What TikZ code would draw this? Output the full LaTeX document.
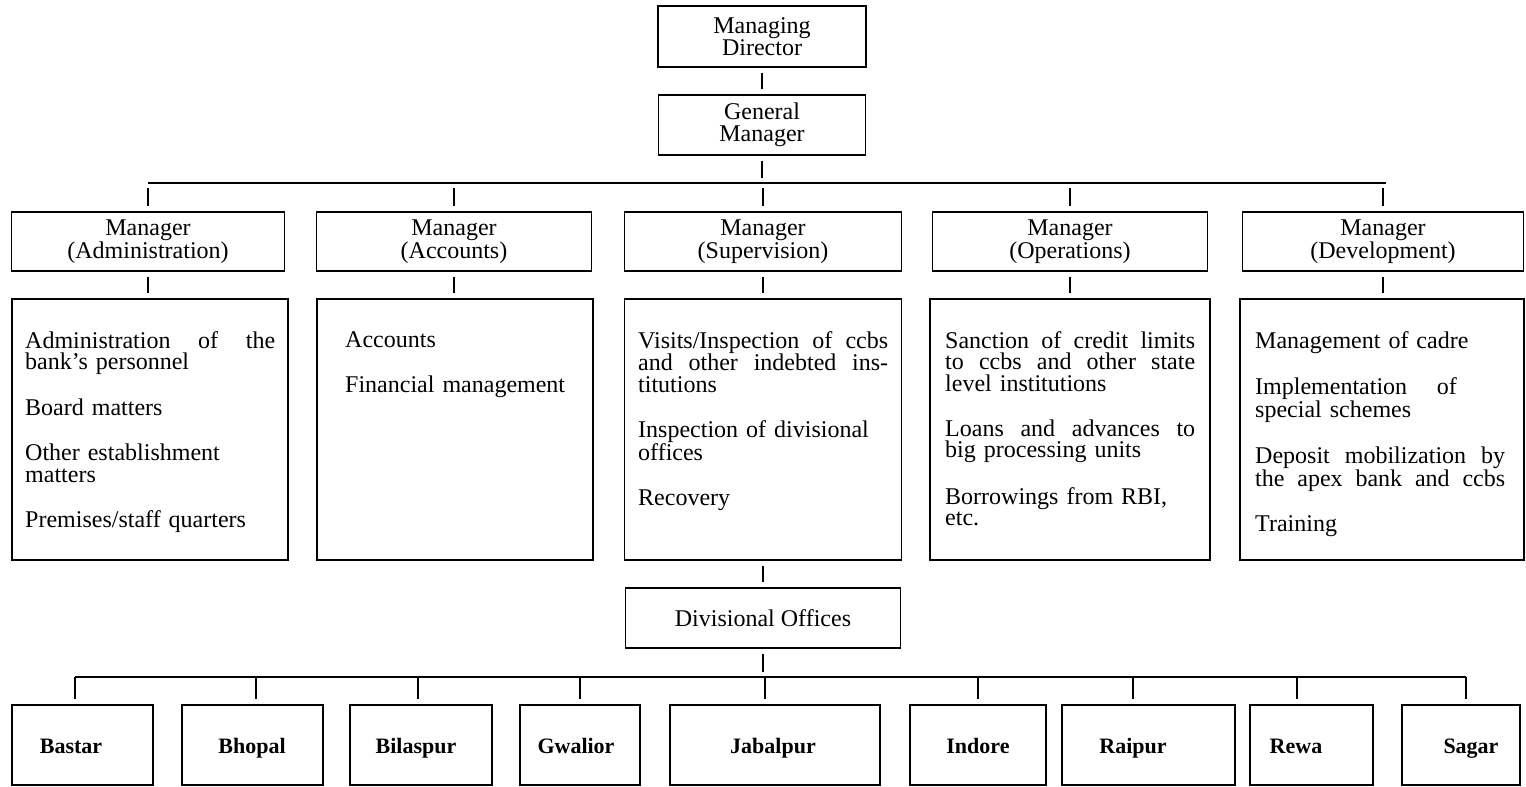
\documentclass[tikz,border=0pt]{standalone}
\usepackage{fontspec}
\setmainfont{Liberation Serif}
\newcommand\jst[1]{\makebox[250pt][s]{\spaceskip=0.25em plus 1fil\relax #1}}
\begin{document}
\begin{tikzpicture}[x=1pt,y=-1pt,
  every node/.style={inner sep=0pt, font=\fontsize{24}{21.5}\selectfont},
  hbox/.style={draw, line width=1.4pt, align=center},
  cbox/.style={draw, line width=1.4pt},
  txt/.style={anchor=north west, text width=250pt, align=left},
  conn/.style={line width=1.4pt, shorten <=5pt, shorten >=5pt},
  drop/.style={line width=1.4pt, shorten >=5pt},
  bus/.style={line width=1.4pt},
  lbl/.style={anchor=base, font=\bfseries\fontsize{22}{22}\selectfont}
]
\useasboundingbox (0,0) rectangle (1526,787);

% top
\node[hbox, minimum width=208pt, minimum height=61pt] (md) at (762,36.5) {Managing\\Director};
\node[hbox, minimum width=207pt, minimum height=60pt] (gm) at (762,125) {General\\Manager};
\draw[conn] (md) -- (gm);

\coordinate (busL) at (148,183);
\coordinate (busR) at (1386,183);
\coordinate (gmj) at (762,183);
\draw[bus] (busL) -- (busR);
\draw[conn] (gm) -- (gmj);

% managers
\node[hbox, minimum width=273pt, minimum height=59pt] (m1) at (148,241.5) {Manager\\(Administration)};
\node[hbox, minimum width=275pt, minimum height=59pt] (m2) at (454,241.5) {Manager\\(Accounts)};
\node[hbox, minimum width=277pt, minimum height=59pt] (m3) at (763,241.5) {Manager\\(Supervision)};
\node[hbox, minimum width=275pt, minimum height=59pt] (m4) at (1070,241.5) {Manager\\(Operations)};
\node[hbox, minimum width=281pt, minimum height=59pt] (m5) at (1383,241.5) {Manager\\(Development)};
\foreach \m in {m1,m2,m3,m4,m5}{
  \draw[conn] (\m |- busL) -- (\m);
}

% content boxes
\node[cbox, minimum width=276pt, minimum height=261pt] (c1) at (150,429.5) {};
\node[cbox, minimum width=276pt, minimum height=261pt] (c2) at (455,429.5) {};
\node[cbox, minimum width=277pt, minimum height=261pt] (c3) at (763,429.5) {};
\node[cbox, minimum width=280pt, minimum height=261pt] (c4) at (1070,429.5) {};
\node[cbox, minimum width=284pt, minimum height=261pt] (c5) at (1382,429.5) {};
\draw[conn] (m1) -- (m1 |- c1.north);
\draw[conn] (m2) -- (m2 |- c2.north);
\draw[conn] (m3) -- (m3 |- c3.north);
\draw[conn] (m4) -- (m4 |- c4.north);
\draw[conn] (m5) -- (m5 |- c5.north);

\node[txt] (t1) at (25,331) {\jst{Administration of the}\\bank's personnel\\[23.5pt]Board matters\\[23.5pt]Other establishment\\matters\\[23.5pt]Premises/staff quarters};
\node[txt] (t2) at (345,331) {Accounts\\[23.5pt]Financial management};
\node[txt] (t3) at (638,331) {\jst{Visits/Inspection of ccbs}\\\jst{and other indebted ins-}\\titutions\\[23.5pt]Inspection of divisional\\offices\\[23.5pt]Recovery};
\node[txt] (t4) at (945,331) {\jst{Sanction of credit limits}\\\jst{to ccbs and other state}\\level institutions\\[23.5pt]\jst{Loans and advances to}\\big processing units\\[23.5pt]Borrowings from RBI,\\etc.};
\node[txt] (t5) at (1255,331) {Management of cadre\\[23.5pt]Implementation\hspace{0.9em} of\\special schemes\\[23.5pt]\jst{Deposit mobilization by}\\\jst{the apex bank and ccbs}\\[23.5pt]Training};

% divisional offices
\node[hbox, minimum width=275pt, minimum height=60pt] (do) at (763,618) {Divisional Offices};
\draw[conn] (c3) -- (do);

\coordinate (b2L) at (75,677);
\coordinate (b2R) at (1466,677);
\coordinate (doj) at (763,677);
\draw[bus] (b2L) -- (b2R);
\draw[conn] (do) -- (doj);

% bottom boxes
\node[cbox, minimum width=141pt, minimum height=80pt] (k1) at (82.5,745) {};
\node[cbox, minimum width=141pt, minimum height=80pt] (k2) at (252.5,745) {};
\node[cbox, minimum width=142pt, minimum height=80pt] (k3) at (421,745) {};
\node[cbox, minimum width=120pt, minimum height=80pt] (k4) at (580,745) {};
\node[cbox, minimum width=210pt, minimum height=80pt] (k5) at (775,745) {};
\node[cbox, minimum width=136pt, minimum height=80pt] (k6) at (978,745) {};
\node[cbox, minimum width=173pt, minimum height=80pt] (k7) at (1148.5,745) {};
\node[cbox, minimum width=123pt, minimum height=80pt] (k8) at (1311.5,745) {};
\node[cbox, minimum width=118pt, minimum height=80pt] (k9) at (1461,745) {};

\node[lbl] (l1) at (71,753) {Bastar};
\node[lbl] (l2) at (252,753) {Bhopal};
\node[lbl] (l3) at (416,753) {Bilaspur};
\node[lbl] (l4) at (576,753) {Gwalior};
\node[lbl] (l5) at (773,753) {Jabalpur};
\node[lbl] (l6) at (978,753) {Indore};
\node[lbl] (l7) at (1133,753) {Raipur};
\node[lbl] (l8) at (1296,753) {Rewa};
\node[lbl] (l9) at (1471,753) {Sagar};

\foreach \i/\x in {1/75,2/256,3/418,4/580,5/765,6/978,7/1133,8/1297,9/1466}{
  \coordinate (d\i) at (\x,677);
  \draw[drop] (d\i) -- (d\i |- k\i.north);
}
\end{tikzpicture}
\end{document}
